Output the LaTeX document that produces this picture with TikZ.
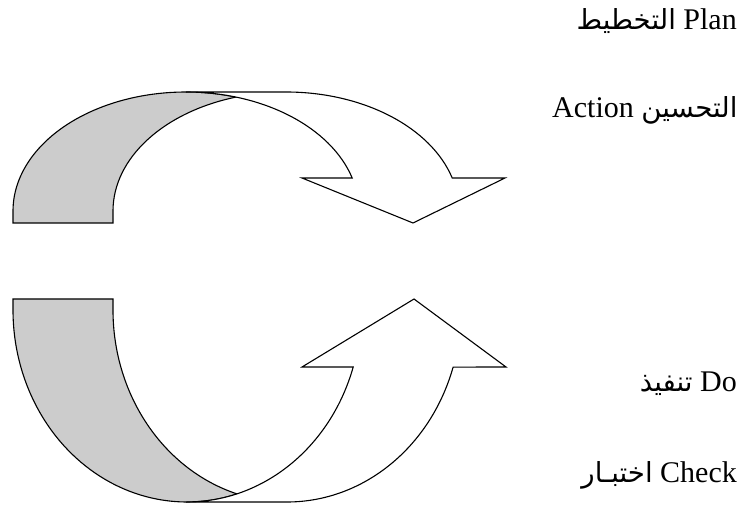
\documentclass[tikz,border=0pt]{standalone}
\usepackage{fontspec}
\setmainfont{Liberation Serif}
\newfontfamily\arabicfont[Script=Arabic,Scale=0.92]{DejaVu Sans}
\TeXXeTstate=1
\definecolor{bandgray}{RGB}{204,204,204}
\tikzset{
  band/.style={draw=black, line width=1.1pt, line join=miter},
  lbl/.style={inner sep=0pt, font=\fontsize{30}{36}\selectfont},
}
\begin{document}
\begin{tikzpicture}[x=1pt,y=1pt]
\useasboundingbox (0,0) rectangle (743,508);
% top curved arrow
\filldraw[band, fill=bandgray] (13,285) -- (13,297)
  arc[start angle=180, end angle=73.2, x radius=173, y radius=119]
  arc[start angle=106.8, end angle=180, x radius=173, y radius=119]
  -- (113,285) -- cycle;
\filldraw[band, fill=white] (186,416) -- (286,416)
  arc[start angle=90, end angle=16.1, x radius=173, y radius=119]
  -- (505,330) -- (413,285) -- (302,330) -- (352.2,330)
  arc[start angle=16.1, end angle=90, x radius=173, y radius=119] -- cycle;
% bottom curved arrow
\filldraw[band, fill=bandgray] (13,209) -- (13,198)
  arc[start angle=180, end angle=286.7, x radius=174, y radius=192]
  arc[start angle=253.3, end angle=180, x radius=174, y radius=192]
  -- (113,209) -- cycle;
\filldraw[band, fill=white] (187,6) -- (287,6)
  arc[start angle=270, end angle=342.7, x radius=174, y radius=192]
  -- (506,141) -- (414,209) -- (302,141) -- (353.2,141)
  arc[start angle=342.7, end angle=270, x radius=174, y radius=192] -- cycle;
% labels
\node[lbl, anchor=base east] (plan) at (737,478) {{\arabicfont\beginR التخطيط\endR} Plan};
\node[lbl, anchor=base west] (action) at (552,390) {Action {\arabicfont\beginR التحسين\endR}};
\node[lbl, anchor=base east] (do) at (737,116) {{\arabicfont\beginR تنفيذ\endR} Do};
\node[lbl, anchor=base east] (check) at (737,26) {{\arabicfont\beginR اختبـار\endR} Check};
\end{tikzpicture}
\end{document}
